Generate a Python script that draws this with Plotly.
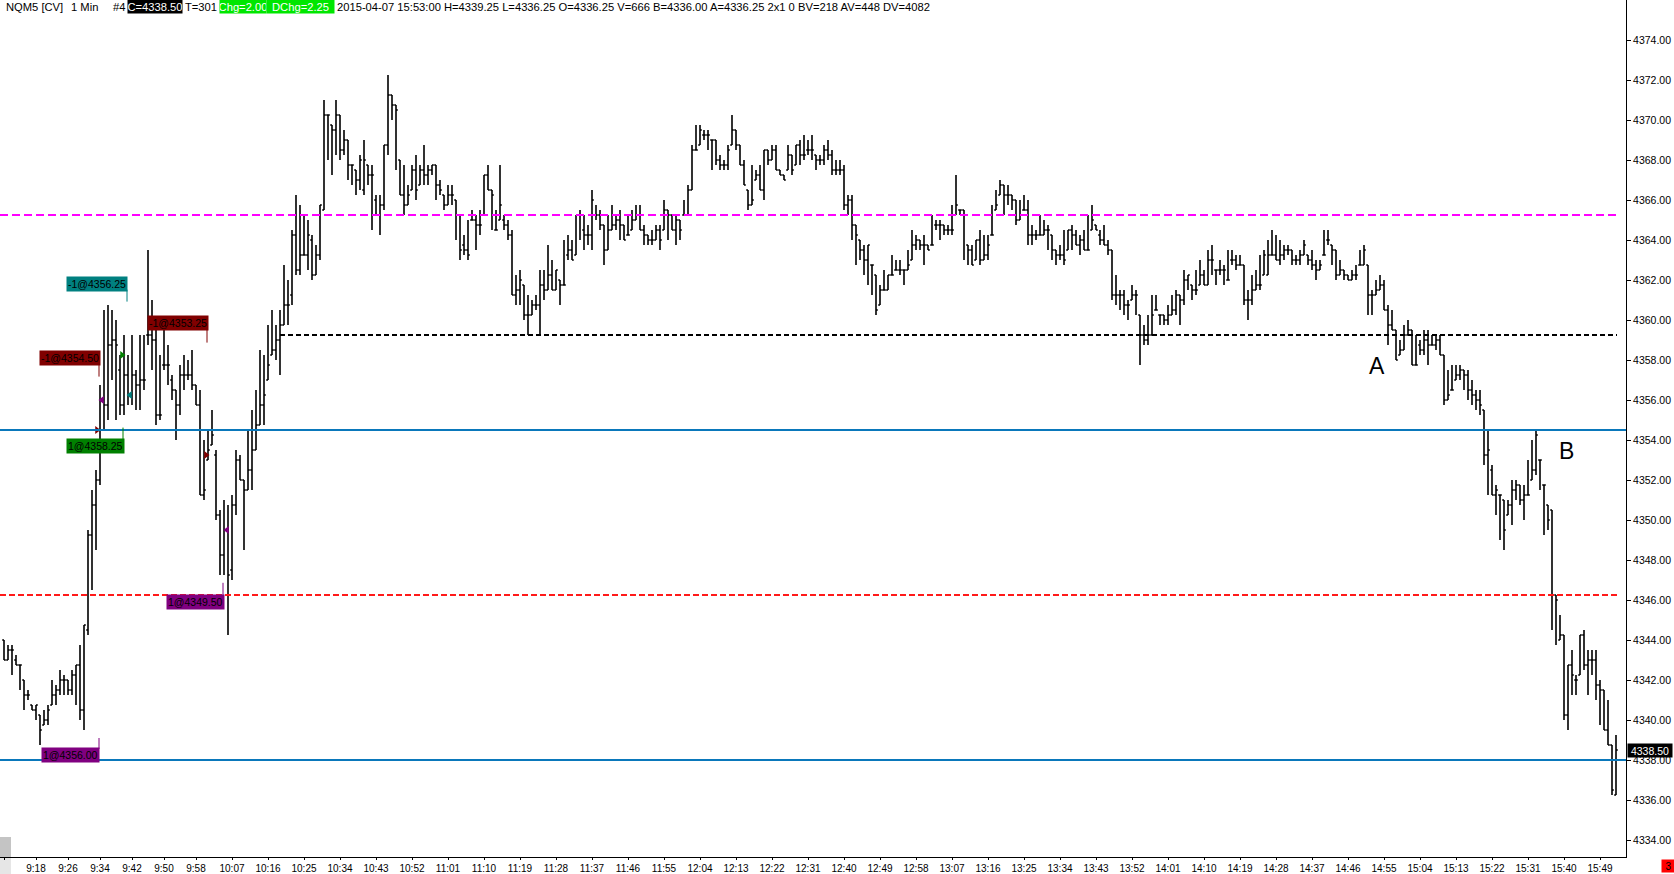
import pandas as pd
import plotly.graph_objects as go

day = "2015-04-07"
first_bar = "09:10"

# 1 minute bars, 09:10 .. 15:53
bar_open = [
    4344, 4343, 4343.5, 4343, 4342.75, 4342, 4341.25, 4340.75, 4340.5, 4340.25,
    4339.75, 4340, 4340.75, 4341.25, 4341.5, 4342, 4342, 4341.5, 4342.25, 4342.75,
    4340.5, 4344.5, 4349.25, 4350.75, 4352, 4356, 4355.75, 4358.75, 4359, 4357.5,
    4355.75, 4357.25, 4356.25, 4357.25, 4356.75, 4357, 4359.25, 4359.25, 4359, 4355.25,
    4357.75, 4357.75, 4357, 4356.5, 4355.75, 4357.25, 4357.25, 4357.25, 4356.75, 4355.75,
    4351.25, 4353, 4353.75, 4353.25, 4350.25, 4348.25, 4349.5, 4347.5, 4350.75, 4353,
    4352, 4351.5, 4352.5, 4353.5, 4354.75, 4355.75, 4357, 4358.25, 4358.5, 4359,
    4359.75, 4360.75, 4361.25, 4364.25, 4362.5, 4363.25, 4363.25, 4364, 4362.25, 4363.25,
    4365.5, 4370.25, 4369.75, 4369.5, 4370.25, 4368.5, 4369, 4367.75, 4367.5, 4367,
    4366.5, 4367.75, 4367.25, 4366, 4365.25, 4365.75, 4368.75, 4371.25, 4370.75, 4368,
    4366.25, 4365.75, 4366.5, 4367.5, 4366.75, 4367.5, 4367.25, 4367.5, 4367.75, 4366.75,
    4366.25, 4365.75, 4366.25, 4366, 4365.25, 4363.75, 4363.5, 4365, 4365, 4364.75,
    4365.25, 4367.25, 4366.5, 4364.5, 4365, 4365, 4364.75, 4364.25, 4361.25, 4361.5,
    4361.75, 4360.25, 4360.25, 4360.75, 4360.75, 4361.75, 4361.5, 4362.25, 4361.5, 4362,
    4361.75, 4363.25, 4363.5, 4363.25, 4365.25, 4364.5, 4364.25, 4364.25, 4365.25, 4365.25,
    4364.75, 4363.5, 4364.5, 4364.75, 4365, 4364.75, 4364.25, 4364.5, 4365, 4365.25,
    4364.5, 4364.25, 4364, 4364, 4364.5, 4364.5, 4365.5, 4365.25, 4364.5, 4365,
    4365.25, 4365.25, 4366.5, 4368.5, 4368.75, 4369.25, 4369.25, 4369, 4369, 4368,
    4367.75, 4367.75, 4368.75, 4369.5, 4368.75, 4367.75, 4366.5, 4365.75, 4367, 4367.25,
    4366.5, 4368.5, 4368, 4368.5, 4367.5, 4367.25, 4367.5, 4368.25, 4367.75, 4368.75,
    4368.25, 4368.5, 4368.5, 4368.25, 4368, 4368, 4368.5, 4368.25, 4367.5, 4367.5,
    4367.5, 4365.75, 4366, 4364.75, 4364, 4363.5, 4363, 4362.75, 4362.25, 4360.75,
    4361.5, 4361.5, 4362.25, 4362.5, 4362.5, 4362.5, 4362.5, 4363, 4363.75, 4364,
    4363.75, 4363.75, 4363.75, 4364.75, 4364.75, 4364.75, 4364.5, 4364.5, 4365.25, 4365.5,
    4365.5, 4363.75, 4363.5, 4363, 4364, 4363, 4363.25, 4364.25, 4365.5, 4366.25,
    4366.75, 4366.25, 4366.25, 4366, 4365, 4365.5, 4365.5, 4364.25, 4364.25, 4364.25,
    4364.25, 4364.5, 4364.25, 4363.5, 4363.25, 4363.25, 4363.5, 4364.5, 4364.25, 4363.75,
    4364, 4363.5, 4364.5, 4364.75, 4364.25, 4364, 4363.75, 4363.5, 4361.25, 4361.25,
    4361.25, 4360.75, 4361, 4361.25, 4360.25, 4359.25, 4359, 4359.25, 4360.5, 4360.25,
    4360.25, 4360, 4360.25, 4360.5, 4361.25, 4361, 4362, 4361.75, 4361.5, 4361.75,
    4362.25, 4361.75, 4363, 4362.5, 4362.5, 4362.5, 4362, 4363, 4363, 4362.75,
    4362.75, 4361, 4361, 4361.5, 4361.75, 4362.25, 4362.25, 4363.25, 4363.25, 4363,
    4363.25, 4363.5, 4363.5, 4363, 4363, 4363.25, 4363.25, 4363, 4362.75, 4362.5,
    4363.25, 4364, 4363.75, 4363.5, 4362.25, 4362.5, 4362.25, 4362, 4362.25, 4362.75,
    4362.75, 4362.75, 4361.25, 4361.25, 4361.5, 4361.75, 4360.5, 4359.75, 4359.5, 4358.25,
    4358.5, 4359.25, 4359.5, 4357.75, 4358.75, 4358.5, 4359, 4358.75, 4358.75, 4359,
    4358.25, 4356, 4356.5, 4357, 4357.25, 4357.5, 4357.25, 4356.5, 4356.25, 4356,
    4355.5, 4353.25, 4352.5, 4351.25, 4351.25, 4351, 4350.25, 4350.75, 4351.5, 4351.75,
    4351, 4351.25, 4352, 4352.5, 4353, 4351.75, 4350.75, 4350.5, 4346.25, 4344,
    4344.25, 4340.25, 4342.75, 4342, 4342.25, 4344.25, 4342.75, 4343, 4343, 4341.75,
    4341.5, 4339.5, 4338.75, 4336.25,
]
bar_high = [
    4344, 4343.75, 4343.75, 4343.25, 4342.75, 4342, 4341.5, 4340.75, 4340.75, 4340.25,
    4340.5, 4340.75, 4342, 4341.75, 4342.5, 4342.25, 4342, 4342.5, 4342.75, 4343.75,
    4344.75, 4349.5, 4351.5, 4352.5, 4356.75, 4360.5, 4360.75, 4360.5, 4360, 4358.25,
    4359.25, 4358.25, 4359.25, 4357.5, 4359.25, 4359.25, 4363.5, 4361, 4359.75, 4358.25,
    4359.5, 4358.75, 4357.25, 4356.5, 4357.75, 4358.25, 4358, 4358.5, 4356.75, 4356.5,
    4354, 4354.5, 4355.5, 4353.5, 4350.5, 4351, 4350.75, 4351.25, 4353.5, 4353.25,
    4352, 4354.5, 4355.5, 4356.5, 4358.5, 4358.25, 4359.75, 4360.5, 4359.75, 4360.5,
    4362.75, 4362, 4364.5, 4366.25, 4365.75, 4365.25, 4365, 4364.25, 4363.75, 4365.75,
    4371, 4370.25, 4369.75, 4371, 4370.25, 4369.5, 4369, 4367.75, 4367.5, 4368.25,
    4369, 4367.75, 4367.75, 4366.25, 4366.25, 4368.75, 4372.25, 4371.25, 4370.75, 4368,
    4367.75, 4366.75, 4367.75, 4368.25, 4367.75, 4368.75, 4367.75, 4367.75, 4367.75, 4367,
    4366.25, 4366.75, 4366.75, 4366, 4365.25, 4364.25, 4365, 4365.5, 4365.25, 4365.5,
    4367.25, 4367.75, 4366.5, 4365.5, 4367.75, 4365.25, 4365, 4364.5, 4362.25, 4362.5,
    4361.75, 4361.25, 4361, 4361.25, 4362.5, 4362.5, 4363.75, 4363, 4362.5, 4362,
    4364, 4364.25, 4364, 4365.25, 4365.5, 4365.25, 4364.75, 4366.5, 4365.75, 4365.5,
    4364.75, 4365.25, 4365.75, 4365.25, 4365.5, 4364.75, 4365.25, 4365.5, 4365.75, 4365.75,
    4364.75, 4364.25, 4364.5, 4364.75, 4364.75, 4366, 4365.5, 4365.25, 4365.25, 4365,
    4366, 4366.75, 4368.75, 4369.75, 4369.75, 4369.5, 4369.5, 4369, 4369, 4368.25,
    4368, 4368.75, 4370.25, 4369.5, 4368.75, 4368, 4366.5, 4367.75, 4367.5, 4367.75,
    4368.5, 4368.5, 4368.75, 4368.75, 4367.5, 4367.25, 4368.75, 4368.25, 4368.75, 4369,
    4369.25, 4369, 4369.25, 4368.25, 4368.25, 4368.75, 4369, 4368.5, 4368, 4368,
    4367.75, 4366.25, 4366.25, 4364.75, 4364, 4363.75, 4363.75, 4362.75, 4362.25, 4361.75,
    4362.5, 4362.25, 4363.25, 4363, 4363, 4362.5, 4363.5, 4364.5, 4364.25, 4364,
    4364.25, 4363.75, 4365.25, 4365, 4365, 4364.75, 4364.75, 4365.75, 4367.25, 4365.5,
    4365.5, 4363.75, 4363.75, 4364, 4364.5, 4364.25, 4364.25, 4365.75, 4366.5, 4367,
    4366.75, 4366.75, 4366.25, 4366, 4366, 4366.25, 4366, 4364.75, 4364.5, 4365.25,
    4365, 4364.75, 4364.25, 4363.5, 4363.75, 4364.5, 4364.5, 4364.75, 4364.5, 4364.25,
    4364.5, 4365.25, 4365.75, 4364.75, 4364.5, 4364.75, 4364, 4363.5, 4362.25, 4361.5,
    4361.5, 4361, 4361.75, 4361.5, 4360.25, 4359.75, 4360.25, 4361.25, 4361.25, 4360.25,
    4360.25, 4360.75, 4361.25, 4361.5, 4361.25, 4362.5, 4362.25, 4361.75, 4362.5, 4363,
    4362.5, 4363.5, 4363.75, 4362.5, 4363, 4362.75, 4363.5, 4363.5, 4363.25, 4363.25,
    4362.75, 4361.5, 4362.25, 4362.5, 4363.25, 4363.5, 4364, 4364.5, 4364.25, 4364,
    4363.75, 4363.75, 4363.5, 4363.25, 4363.5, 4364, 4363.25, 4363.5, 4363, 4363,
    4364.5, 4364.5, 4363.75, 4363.5, 4363, 4362.5, 4362.25, 4362.5, 4362.75, 4363.5,
    4363.75, 4362.75, 4361.5, 4362, 4362.25, 4362, 4360.75, 4360.5, 4359.5, 4359,
    4359.75, 4360, 4359.5, 4359.25, 4359, 4359.5, 4359.5, 4359.25, 4359.25, 4359.25,
    4358.25, 4357.5, 4357.75, 4357.75, 4357.75, 4357.5, 4357.5, 4357, 4356.5, 4356.5,
    4355.5, 4354.5, 4352.75, 4351.75, 4351.25, 4351, 4351, 4352, 4352, 4351.75,
    4351.75, 4353, 4354, 4354.5, 4353, 4351.75, 4350.75, 4350.5, 4346.25, 4345.25,
    4344.25, 4342.75, 4343.5, 4342.25, 4344.25, 4344.5, 4343.5, 4343.5, 4343.5, 4342,
    4341.5, 4341, 4338.75, 4339.25,
]
bar_low = [
    4343, 4343, 4342.25, 4342.75, 4341.5, 4340.5, 4341, 4340.5, 4340, 4338.75,
    4339.75, 4339.75, 4340.75, 4340.75, 4341.25, 4341.25, 4341.25, 4341.25, 4340.75, 4340,
    4339.5, 4344.25, 4346.5, 4348.5, 4351.75, 4354.5, 4355, 4357, 4355, 4355.25,
    4355.25, 4355.75, 4355.75, 4355.5, 4355.5, 4356.5, 4358.75, 4357.5, 4354.75, 4355,
    4357.5, 4356.75, 4356, 4354, 4355.25, 4356.5, 4357, 4356.5, 4355.75, 4351.25,
    4351, 4353, 4353.75, 4350, 4347.25, 4347.25, 4344.25, 4347, 4350.25, 4352,
    4348.5, 4351.5, 4351.5, 4353.5, 4354.75, 4354.75, 4357, 4358.25, 4358, 4357.25,
    4359.75, 4359.75, 4360.75, 4362.25, 4362.25, 4363.25, 4362.5, 4362, 4362.25, 4363,
    4365.5, 4368, 4367.25, 4368.25, 4368, 4368.25, 4367, 4366.75, 4366.25, 4366.5,
    4366.25, 4366.75, 4364.5, 4365.25, 4364.25, 4365.5, 4368.25, 4370, 4367.5, 4366.25,
    4365.25, 4365.75, 4366.5, 4366, 4366.75, 4366.75, 4366.75, 4367.25, 4366, 4366.25,
    4365.5, 4365.75, 4365.75, 4364, 4363, 4363.25, 4363, 4365, 4363.5, 4364.25,
    4365.25, 4366.5, 4364.5, 4364.5, 4365, 4364.5, 4364, 4361.25, 4360.75, 4360.75,
    4360, 4359.25, 4360.25, 4360.5, 4359.25, 4361, 4361.5, 4361.5, 4361.5, 4360.75,
    4361.75, 4363, 4363, 4363.25, 4364, 4363.5, 4363.75, 4363.5, 4365, 4364.5,
    4362.75, 4363.5, 4364.5, 4364.5, 4364, 4364, 4364.25, 4364.5, 4365, 4364.5,
    4363.75, 4363.75, 4363.75, 4364, 4363.5, 4364.5, 4364, 4364.5, 4363.75, 4364,
    4365.25, 4365.25, 4366.5, 4368.5, 4368.75, 4369, 4368.5, 4367.5, 4367.75, 4367.5,
    4367.5, 4367.5, 4368.75, 4368.5, 4367.75, 4366.75, 4365.5, 4365.75, 4367, 4366.5,
    4366, 4367.75, 4368, 4367.5, 4367.25, 4367, 4367.5, 4367.25, 4367.75, 4367.75,
    4368, 4368.25, 4368, 4367.5, 4367.75, 4367.75, 4368, 4367.25, 4367.25, 4367.25,
    4365.5, 4365.25, 4364, 4362.75, 4363, 4362.25, 4361.75, 4361.25, 4360.25, 4360.75,
    4361.5, 4361.5, 4362.25, 4362.5, 4362.25, 4361.75, 4362.5, 4363, 4363.5, 4363.5,
    4362.75, 4363.5, 4363.75, 4364.5, 4364, 4364.25, 4364.25, 4364.25, 4365.25, 4365.25,
    4363, 4362.75, 4362.75, 4363, 4362.75, 4363, 4363, 4364.25, 4365.5, 4366.25,
    4365.25, 4365.75, 4365.5, 4364.75, 4365, 4365.5, 4363.75, 4363.75, 4364, 4364.25,
    4364.25, 4363.5, 4363, 4362.75, 4363, 4362.75, 4363.5, 4363.5, 4363.75, 4363.25,
    4363.5, 4363.5, 4364.5, 4364.5, 4363.75, 4363.75, 4363.25, 4361, 4360.75, 4360.5,
    4360.25, 4360, 4361, 4360.25, 4357.75, 4358.75, 4358.75, 4359.25, 4360.5, 4359.75,
    4359.75, 4359.75, 4360.25, 4360.25, 4359.75, 4360.75, 4361.5, 4361, 4361.25, 4361.75,
    4361.75, 4361.75, 4362.25, 4361.75, 4362.25, 4361.75, 4362, 4362.75, 4362.5, 4362.75,
    4360.75, 4360, 4360.75, 4361.5, 4361.5, 4362.25, 4362.25, 4363.25, 4363, 4362.75,
    4363, 4363.25, 4362.75, 4362.75, 4362.75, 4363.25, 4362.75, 4362.5, 4362, 4362.5,
    4363.25, 4363.75, 4362.75, 4362, 4362.25, 4362, 4362, 4362, 4362, 4362.75,
    4362.75, 4360.25, 4360.25, 4361.25, 4361.5, 4360.5, 4358.75, 4359.5, 4358, 4358.25,
    4358.5, 4359.25, 4357.75, 4357.75, 4358.25, 4358.25, 4357.75, 4358.75, 4358.5, 4358.25,
    4355.75, 4356, 4356.5, 4357, 4357, 4356.5, 4356, 4355.75, 4355.5, 4355.25,
    4352.75, 4351.25, 4351.25, 4350.25, 4349, 4348.5, 4350.25, 4349.75, 4351, 4350.75,
    4350, 4351.25, 4352, 4352.25, 4351.5, 4349.25, 4349.5, 4344.5, 4343.75, 4344,
    4340, 4339.5, 4341.25, 4341.25, 4342.25, 4342.5, 4341.25, 4342.25, 4341, 4339.75,
    4339.5, 4338.75, 4336.25, 4336.25,
]
bar_close = [
    4343, 4343.5, 4343.5, 4342.75, 4342.75, 4341.25, 4341.25, 4340.5, 4340.75, 4339.5,
    4340, 4340.5, 4341.25, 4341.5, 4342, 4342, 4341.5, 4342.25, 4342.75, 4340.5,
    4344.75, 4349.25, 4350.75, 4352, 4356, 4355.75, 4358.75, 4359, 4358.75, 4355.75,
    4357.25, 4356.25, 4357.25, 4356.75, 4357, 4357, 4359.25, 4359, 4355.25, 4355.25,
    4357.75, 4357.75, 4356.5, 4355.75, 4357.25, 4357.25, 4357.25, 4356.75, 4355.75, 4351.25,
    4351.5, 4353.5, 4354.25, 4350.25, 4348.25, 4349.5, 4347.25, 4350.75, 4353, 4352,
    4351.5, 4352.5, 4353.5, 4354.75, 4355.75, 4356.25, 4357.75, 4358.5, 4359, 4359.75,
    4360.75, 4360.75, 4364.25, 4362.5, 4363.25, 4363.25, 4364.25, 4362.25, 4363.25, 4365.75,
    4370.25, 4370.25, 4369.5, 4370.25, 4368.5, 4369, 4367.75, 4367.75, 4367, 4368,
    4368, 4367.25, 4367.25, 4365.25, 4365.75, 4368.75, 4371.25, 4370.75, 4370.5, 4366.25,
    4365.75, 4366.25, 4367.5, 4366.5, 4367.5, 4367.25, 4367.5, 4367.75, 4366.75, 4366.5,
    4365.75, 4366.25, 4366.25, 4365.25, 4363.5, 4363.5, 4363.25, 4365, 4364.75, 4364.75,
    4367.25, 4366.5, 4366.25, 4364.5, 4365.75, 4364.75, 4364.25, 4361.25, 4361.5, 4362,
    4360.25, 4360.25, 4360.75, 4360.75, 4361.75, 4361.5, 4362.25, 4361.5, 4362.5, 4361.75,
    4361.75, 4363.5, 4363, 4365.25, 4365.25, 4364.25, 4364.25, 4366, 4365.25, 4364.75,
    4363.5, 4364.5, 4364.75, 4365, 4364.75, 4364, 4364.25, 4365, 4365.25, 4364.5,
    4364.25, 4364, 4364, 4364.5, 4364, 4365.5, 4365.25, 4364.5, 4365, 4364.5,
    4365.25, 4366.5, 4368.5, 4368.5, 4369.5, 4369.25, 4369.25, 4369, 4368, 4367.75,
    4367.75, 4368.5, 4369.5, 4368.75, 4367.75, 4366.75, 4365.75, 4366, 4367.25, 4366.5,
    4368.5, 4368, 4368.5, 4367.5, 4367.25, 4367, 4368.25, 4367.5, 4368.75, 4368.25,
    4368.25, 4368.5, 4368.5, 4368, 4368, 4368.5, 4368.25, 4367.5, 4367.5, 4367.5,
    4365.75, 4366, 4364.75, 4364.25, 4363.5, 4363, 4363.75, 4362.75, 4360.5, 4361.5,
    4361.5, 4362.25, 4362.25, 4362.5, 4362.5, 4362.5, 4362.75, 4363.75, 4364, 4363.75,
    4363.75, 4363.5, 4363.75, 4364.75, 4364.75, 4364.5, 4364.5, 4364.5, 4365.75, 4365.5,
    4365.25, 4363.5, 4362.75, 4364, 4363, 4363.25, 4363.75, 4364.25, 4365.75, 4366.75,
    4366.25, 4366.25, 4366, 4365, 4365.25, 4365.5, 4364.25, 4364.25, 4364.25, 4364.25,
    4364.5, 4364.5, 4363.5, 4363.25, 4363.25, 4363, 4364.5, 4364.25, 4363.75, 4364,
    4363.5, 4363.5, 4365, 4364.5, 4364, 4363.75, 4363.5, 4361.25, 4361.25, 4361.25,
    4360.75, 4360.75, 4361.25, 4361.25, 4359.25, 4359, 4359.25, 4360.25, 4360.5, 4360.25,
    4360, 4360.25, 4360.5, 4361.25, 4361, 4362, 4362.25, 4361.5, 4361.5, 4362.25,
    4361.75, 4363, 4363, 4362.5, 4362.5, 4362.5, 4362, 4363, 4362.75, 4362.75,
    4361, 4361, 4361.5, 4361.75, 4361.75, 4363.25, 4363.25, 4363.25, 4363, 4363.25,
    4363.5, 4363.5, 4363, 4363, 4363.25, 4363.75, 4363, 4362.75, 4362.5, 4362.75,
    4363.25, 4364, 4363.5, 4362.25, 4362.5, 4362.25, 4362, 4362.25, 4362.25, 4362.75,
    4363.5, 4361.25, 4361.25, 4361.5, 4361.75, 4360.5, 4359.75, 4359.5, 4358, 4358.5,
    4359.25, 4359.5, 4357.75, 4357.75, 4358.5, 4359, 4358.75, 4358.75, 4359, 4358.25,
    4356, 4356.25, 4356.5, 4357.25, 4357.5, 4357.25, 4356.5, 4356.25, 4356, 4355.75,
    4353.25, 4353.5, 4351.25, 4351.5, 4351.25, 4349.5, 4350.75, 4351.5, 4351.75, 4351,
    4351.25, 4351.25, 4352.5, 4354.25, 4353, 4351.75, 4350, 4346.25, 4346, 4344.25,
    4340.25, 4342.75, 4342.25, 4342, 4344.25, 4342.75, 4343, 4343, 4341.75, 4341.5,
    4339.5, 4338.75, 4336.5, 4338.5,
]

bar_time = pd.date_range(f"{day} {first_bar}", periods=len(bar_close), freq="min")

price_ticks = [4334, 4336, 4338, 4340, 4342, 4344, 4346, 4348, 4350, 4352, 4354,
               4356, 4358, 4360, 4362, 4364, 4366, 4368, 4370, 4372, 4374]
time_labels = ["9:10", "9:18", "9:26", "9:34", "9:42", "9:50", "9:58", "10:07", "10:16",
               "10:25", "10:34", "10:43", "10:52", "11:01", "11:10", "11:19", "11:28",
               "11:37", "11:46", "11:55", "12:04", "12:13", "12:22", "12:31", "12:40",
               "12:49", "12:58", "13:07", "13:16", "13:25", "13:34", "13:43", "13:52",
               "14:01", "14:10", "14:19", "14:28", "14:37", "14:46", "14:55", "15:04",
               "15:13", "15:22", "15:31", "15:40", "15:49"]

# horizontal levels
blue_levels = [4354.5, 4338.0]
red_level = 4346.25
magenta_level = 4365.25
black_level = 4359.25

# order fills
fill_times = ["09:33:15", "09:34:30", "09:39:30", "09:41:30", "10:00:30", "10:05:45"]
fill_prices = [4354.5, 4356.0, 4358.25, 4356.25, 4353.25, 4349.5]
fill_colors = ["#800000", "#800080", "#008000", "#008080", "#800000", "#800080"]
fill_symbols = ["triangle-right", "triangle-left", "triangle-right",
                "triangle-left", "triangle-right", "triangle-left"]

last_price = 4338.5

PW, PH = 1626, 857
FONT = "Liberation Sans"


def t(s):
    return f"{day} {s}"


def px(x):
    return x / PW


def py(y):
    return 1 - y / PH


fig = go.Figure()

fig.add_trace(go.Ohlc(
    x=bar_time, open=bar_open, high=bar_high, low=bar_low, close=bar_close,
    increasing=dict(line=dict(color="black", width=1.6)),
    decreasing=dict(line=dict(color="black", width=1.6)),
    tickwidth=0.45, hoverinfo="skip", showlegend=False,
))

fig.add_trace(go.Scatter(
    x=[t(s) for s in fill_times], y=fill_prices, mode="markers",
    marker=dict(symbol=fill_symbols, color=fill_colors, size=7, line=dict(width=0)),
    hoverinfo="skip", showlegend=False,
))

shapes = []
for lvl in blue_levels:
    shapes.append(dict(type="line", xref="paper", yref="y", x0=0, x1=1, y0=lvl, y1=lvl,
                       line=dict(color="#0a78bb", width=2)))
shapes.append(dict(type="line", xref="x", yref="y", x0=t("09:09:00"), x1=t("15:53:15"),
                   y0=magenta_level, y1=magenta_level,
                   line=dict(color="#ff00ff", width=2, dash="8px,4px")))
shapes.append(dict(type="line", xref="x", yref="y", x0=t("10:19:00"), x1=t("15:53:15"),
                   y0=black_level, y1=black_level,
                   line=dict(color="black", width=2, dash="5px,3px")))
shapes.append(dict(type="line", xref="x", yref="y", x0=t("09:09:00"), x1=t("15:54:00"),
                   y0=red_level, y1=red_level,
                   line=dict(color="#ff1a1a", width=2, dash="6px,3px")))

# order labels: text, colour, right edge time, centre price, tick line (time, y0, y1)
order_labels = [
    ("-1@4356.25", "#008080", "09:41:00", 4361.82, ("09:40:45", 4361.52, 4360.92)),
    ("-1@4354.50", "#800000", "09:34:15", 4358.09, ("09:33:45", 4357.77, 4357.17)),
    ("-1@4353.25", "#800000", "10:01:15", 4359.85, ("10:00:45", 4359.52, 4358.87)),
    ("1@4358.25", "#008000", "09:40:15", 4353.71, ("09:39:45", 4354.62, 4354.02)),
    ("1@4349.50", "#800080", "10:05:15", 4345.91, ("10:04:45", 4346.86, 4346.21)),
    ("1@4356.00", "#800080", "09:34:00", 4338.27, ("09:33:45", 4339.10, 4338.55)),
]
annotations = []
for text, col, xr, yc, (lx, ly0, ly1) in order_labels:
    annotations.append(dict(x=t(xr), y=yc, xref="x", yref="y", text=text, showarrow=False,
                            xanchor="right", yanchor="middle", bgcolor=col, borderpad=1,
                            font=dict(family=FONT, size=10.5, color="black")))
    shapes.append(dict(type="line", xref="x", yref="y", x0=t(lx), x1=t(lx), y0=ly0, y1=ly1,
                       line=dict(color=col, width=1)))

annotations.append(dict(x=t("14:53:10"), y=4357.68, xref="x", yref="y", text="A",
                        showarrow=False, font=dict(family=FONT, size=23, color="black")))
annotations.append(dict(x=t("15:40:35"), y=4353.43, xref="x", yref="y", text="B",
                        showarrow=False, font=dict(family=FONT, size=23, color="black")))

# header line
header = [
    ("NQM5 [CV]", 5, None, "black", None),
    ("1 Min", 70, None, "black", None),
    ("#4", 112, None, "black", None),
    ("C=4338.50", 127, "black", "white", 54),
    ("T=301", 184, None, "black", None),
    ("Chg=2.00", 219, "#00e600", "white", 46),
    ("DChg=2.25", 266, "#00e600", "white", 67),
    ("2015-04-07 15:53:00 H=4339.25 L=4336.25 O=4336.25 V=666 B=4336.00 A=4336.25 "
     "2x1 0 BV=218 AV=448 DV=4082", 336, None, "black", None),
]
for text, x, bg, fc, w in header:
    a = dict(x=px(x), y=py(7), xref="paper", yref="paper", text=text, showarrow=False,
             xanchor="left", yanchor="middle", borderpad=0,
             font=dict(family=FONT, size=11.2, color=fc))
    if bg:
        a.update(bgcolor=bg, width=w, height=13)
    annotations.append(a)

# last price box and status box
annotations.append(dict(x=px(1627), y=last_price, xref="paper", yref="y",
                        text=f"{last_price:.2f}", showarrow=False, xanchor="left",
                        yanchor="middle", bgcolor="black", width=44, height=13, borderpad=0,
                        font=dict(family=FONT, size=10.5, color="white")))
annotations.append(dict(x=px(1661), y=py(866), xref="paper", yref="paper", text="3",
                        showarrow=False, xanchor="left", yanchor="middle", bgcolor="#ff0000",
                        width=13, height=12, borderpad=0,
                        font=dict(family=FONT, size=10, color="black")))

shapes.append(dict(type="rect", xref="paper", yref="paper", x0=0, x1=px(11), y0=py(837),
                   y1=py(857), fillcolor="#c4c4c4", line=dict(width=0), layer="below"))
shapes.append(dict(type="rect", xref="paper", yref="paper", x0=0, x1=px(11), y0=py(858),
                   y1=py(874), fillcolor="#e6e6e6", line=dict(width=0), layer="below"))

fig.update_layout(
    width=1674, height=874,
    margin=dict(l=0, r=48, t=0, b=17, autoexpand=False),
    paper_bgcolor="white", plot_bgcolor="white",
    font=dict(family=FONT, size=10.5, color="black"),
    shapes=shapes, annotations=annotations,
    showlegend=False, hovermode=False,
    xaxis=dict(
        type="date", range=[t("09:09:00"), t("15:55:30")],
        rangeslider=dict(visible=False), automargin=False,
        tickvals=[t(s) for s in time_labels], ticktext=time_labels,
        tickfont=dict(family=FONT, size=10),
        ticks="outside", ticklen=2, tickcolor="black",
        showline=True, linecolor="black", linewidth=1,
        showgrid=False, zeroline=False,
    ),
    yaxis=dict(
        side="right", range=[4333.15, 4376.0], automargin=False,
        tickvals=price_ticks, tickformat=".2f",
        ticks="outside", ticklen=4, tickcolor="black",
        showline=True, linecolor="black", linewidth=1,
        showgrid=False, zeroline=False,
    ),
)

fig.write_html("out.html", config={"displayModeBar": False},
               post_script="document.body.style.margin='0';document.body.style.overflow='hidden';")
